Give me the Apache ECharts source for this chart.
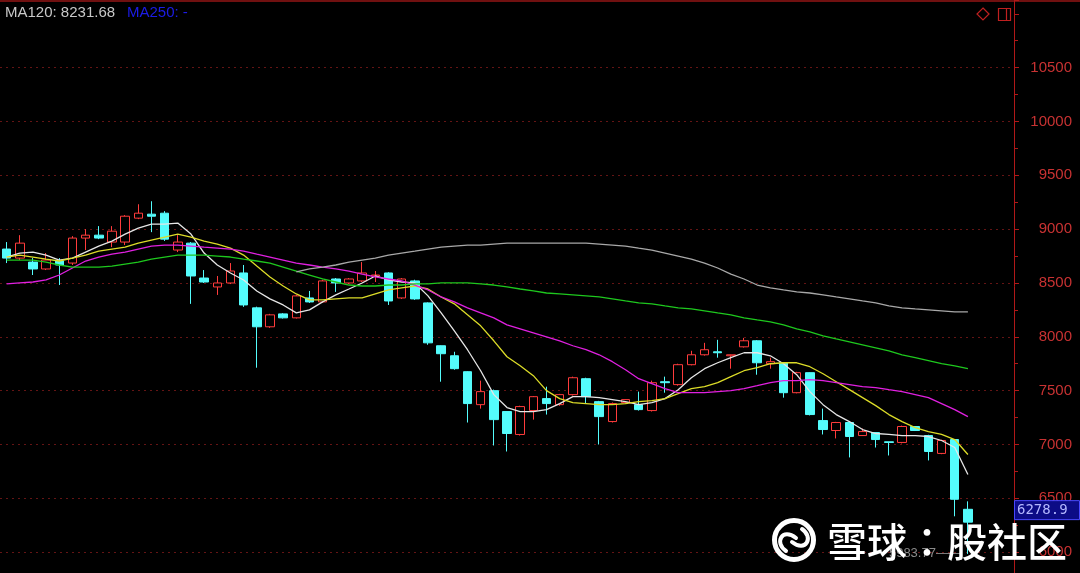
<!DOCTYPE html>
<html><head><meta charset="utf-8">
<script src="https://cdn.jsdelivr.net/npm/echarts@6/dist/echarts.min.js"></script>
<style>html,body{margin:0;padding:0;background:#000;}#c{width:1080px;height:573px;}</style>
</head><body><div id="c"></div>
<script>
// ---- data ----
const categories = Array.from({length: 77}, (_, i) => String(i + 1)); // 74 trading days + 3 empty slots
const opens = [8815,8731,8694,8630,8704,8685,8917,8944,8880,8880,
  9102,9139,9148,8806,8870,8546,8463,8500,8593,8269,
  8093,8213,8176,8361,8324,8537,8500,8519,8565,8593,
  8361,8519,8315,7917,7824,7676,7370,7500,7306,7093,
  7315,7426,7370,7463,7611,7398,7213,7389,7370,7315,
  7583,7556,7741,7833,7861,7824,7907,7963,7750,7759,
  7481,7667,7222,7130,7204,7083,7111,7025,7019,7167,
  7083,6917,7046,6398];
const closes = [8731,8870,8630,8713,8667,8917,8944,8917,8981,9120,
  9148,9120,8907,8880,8565,8509,8500,8611,8296,8093,
  8204,8176,8380,8324,8519,8500,8537,8593,8574,8333,
  8537,8352,7944,7843,7704,7380,7491,7231,7102,7352,
  7444,7380,7463,7620,7444,7259,7380,7417,7324,7574,
  7574,7741,7833,7880,7852,7833,7963,7759,7769,7481,
  7667,7278,7139,7204,7074,7120,7046,7019,7167,7130,
  6935,7037,6491,6278.9];
const lows = [8685,8713,8574,8620,8481,8667,8806,8907,8833,8852,
  9093,8972,8890,8787,8306,8500,8389,8490,8278,7713,
  8083,8170,8170,8315,8315,8417,8490,8509,8509,8296,
  8352,8343,7926,7583,7694,7204,7333,6991,6935,7083,
  7231,7278,7360,7455,7380,7000,7204,7380,7315,7306,
  7481,7546,7735,7825,7806,7704,7900,7648,7704,7435,
  7475,7270,7093,7056,6880,7080,6972,6898,7010,7125,
  6852,6910,6333,5983.77];
const highs = [8880,8944,8731,8778,8731,8935,9000,9028,9028,9130,
  9231,9259,9167,8944,8880,8620,8565,8685,8667,8280,
  8213,8220,8390,8426,8530,8546,8546,8694,8611,8600,
  8546,8530,8320,7920,7861,7680,7593,7510,7310,7360,
  7450,7537,7470,7630,7620,7405,7390,7420,7491,7593,
  7630,7750,7870,7944,7972,7835,7990,7970,7806,7765,
  7675,7670,7333,7210,7210,7148,7115,7025,7175,7170,
  7090,7045,7050,6472];
const ma5 = [8741,8778,8787,8759,8713,8731,8787,8843,8889,8954,
  9009,9046,9046,9056,8954,8778,8667,8593,8528,8426,
  8352,8296,8222,8250,8324,8389,8444,8500,8565,8528,
  8509,8500,8380,8222,8056,7880,7685,7463,7343,7306,
  7306,7324,7380,7444,7444,7435,7417,7398,7370,7389,
  7426,7509,7620,7704,7759,7806,7852,7852,7824,7750,
  7648,7491,7370,7278,7213,7139,7102,7093,7083,7083,
  7074,7037,6972,6722];
const ma10 = [8741,8759,8741,8722,8704,8731,8759,8796,8815,8833,
  8870,8898,8926,8954,8926,8889,8861,8824,8759,8657,
  8556,8472,8398,8343,8343,8352,8361,8361,8398,8435,
  8454,8472,8444,8370,8306,8204,8102,7963,7815,7732,
  7639,7500,7426,7389,7380,7370,7370,7380,7398,7407,
  7426,7472,7519,7537,7574,7630,7685,7713,7750,7759,
  7759,7722,7657,7583,7509,7435,7361,7278,7213,7157,
  7120,7093,7046,6907];
const ma20 = [8491,8500,8509,8528,8574,8639,8704,8741,8768,8787,
  8815,8843,8852,8852,8843,8833,8824,8815,8796,8768,
  8741,8713,8685,8667,8648,8630,8611,8583,8556,8537,
  8519,8481,8435,8370,8324,8269,8222,8176,8111,8074,
  8037,8000,7963,7917,7880,7833,7769,7694,7611,7565,
  7519,7481,7481,7481,7491,7500,7519,7546,7574,7593,
  7593,7602,7593,7574,7556,7537,7528,7509,7491,7463,
  7435,7380,7324,7259];
const ma60 = [8713,8713,8713,8694,8667,8648,8648,8648,8657,8676,
  8694,8722,8741,8759,8759,8759,8750,8741,8722,8704,
  8685,8648,8611,8574,8537,8509,8481,8472,8472,8481,
  8481,8491,8491,8500,8500,8500,8491,8481,8463,8444,
  8426,8407,8398,8389,8380,8370,8352,8333,8315,8306,
  8287,8269,8259,8241,8222,8204,8176,8157,8139,8111,
  8074,8046,8009,7981,7954,7926,7898,7870,7833,7806,
  7778,7750,7731,7704];
const ma120 = ['-','-','-','-','-','-','-','-','-','-',
  '-','-','-','-','-','-','-','-','-','-',
  '-','-',8602,8630,8648,8667,8694,8713,8731,8759,
  8778,8796,8815,8833,8843,8852,8852,8861,8870,8870,
  8870,8870,8870,8870,8870,8861,8852,8843,8824,8806,
  8778,8750,8722,8685,8639,8583,8537,8481,8454,8435,
  8417,8407,8389,8370,8352,8333,8315,8287,8269,8259,
  8250,8241,8231,8231.68];
const yTickLabels = [6000,6500,7000,7500,8000,8500,9000,9500,10000,10500];

// ---- chart ----
const candleData = opens.map((o, i) => [o, closes[i], lows[i], highs[i]]);
const lastIdx = opens.length - 1;
const chart = echarts.init(document.getElementById('c'), null, {renderer: 'canvas'});
const lineSeries = (name, data, color) => ({
  name, type: 'line', data, symbol: 'none', showSymbol: false,
  lineStyle: {color, width: 1.3}, z: 3, silent: true
});
const splitColors = [];
for (let i = 0; i < 11; i++) splitColors.push('#641414');
splitColors.push('rgba(0,0,0,0)');

const baseGraphic = [
  {type: 'line', shape: {x1: 0, y1: 1, x2: 1080, y2: 1}, style: {stroke: '#701010', lineWidth: 2}, silent: true},
  {type: 'text', x: 5, y: 13, style: {text: 'MA120: ' + ma120[lastIdx].toFixed(2), fill: '#c8c8c8',
    font: '15px "Liberation Sans", Arial', verticalAlign: 'middle'}},
  {type: 'text', x: 127, y: 13, style: {text: 'MA250: -', fill: '#1c1ce6',
    font: '15px "Liberation Sans", Arial', verticalAlign: 'middle'}},
  {type: 'polygon', shape: {points: [[983, 8], [989, 14], [983, 20], [977, 14]]},
    style: {fill: 'none', stroke: '#c02020', lineWidth: 1.2}},
  {type: 'rect', shape: {x: 998.5, y: 8.5, width: 12, height: 12}, style: {fill: 'none', stroke: '#c02020', lineWidth: 1.2}},
  {type: 'line', shape: {x1: 1006.5, y1: 8.5, x2: 1006.5, y2: 20.5}, style: {stroke: '#c02020', lineWidth: 1.2}},
  // watermark
  {type: 'circle', shape: {cx: 794, cy: 540, r: 19.5}, style: {fill: 'none', stroke: '#fff', lineWidth: 5}, z: 100},
  {type: 'bezierCurve', shape: {x1: 786, y1: 551, cpx1: 774, cpy1: 543, cpx2: 782, cpy2: 527, x2: 796, y2: 538},
    style: {fill: 'none', stroke: '#fff', lineWidth: 4, lineCap: 'round'}, z: 100},
  {type: 'bezierCurve', shape: {x1: 802, y1: 529, cpx1: 814, cpy1: 537, cpx2: 806, cpy2: 553, x2: 792, y2: 542},
    style: {fill: 'none', stroke: '#fff', lineWidth: 4, lineCap: 'round'}, z: 100},
  {type: 'text', x: 827, y: 542, z: 100, style: {text: '雪球：股社区', fill: '#fff',
    font: '500 40px "Noto Sans CJK TC"', verticalAlign: 'middle'}}
];

chart.setOption({
  backgroundColor: '#000',
  animation: false,
  grid: {left: 0, right: 66, top: 0, bottom: -33, outerBoundsMode: 'none', containLabel: false},
  xAxis: {type: 'category', data: categories, boundaryGap: true, show: false},
  yAxis: {
    type: 'value', position: 'right', min: 5500, max: 11128, interval: 500,
    axisLine: {show: true, lineStyle: {color: '#b01818', width: 1}},
    axisTick: {show: true, length: 5, lineStyle: {color: '#b01818'}},
    minorTick: {show: true, splitNumber: 2, length: 4, lineStyle: {color: '#b01818'}},
    axisLabel: {
      align: 'right', margin: 58, color: '#c83232', fontSize: 15,
      fontFamily: '"Liberation Sans", Arial, sans-serif',
      formatter: v => yTickLabels.includes(v) ? String(v) : ''
    },
    splitLine: {show: true, showMaxLine: false, lineStyle: {color: splitColors, type: [2, 4], width: 1}}
  },
  series: [
    {
      type: 'candlestick', data: candleData, barWidth: 9, z: 2, clip: false,
      itemStyle: {color: '#000', color0: '#54fcfc', borderColor: '#ff3c3c', borderColor0: '#54fcfc', borderWidth: 1},
      markPoint: {
        symbol: 'circle', symbolSize: 0, silent: true,
        data: [{coord: [lastIdx, lows[lastIdx]], value: lows[lastIdx]}],
        label: {show: true, position: 'left', distance: 6, formatter: p => p.value + '——',
          color: '#8a8a8a', fontSize: 13, fontFamily: '"Liberation Sans", Arial'}
      }
    },
    lineSeries('MA5', ma5, '#e6e6e6'),
    lineSeries('MA10', ma10, '#dcdc28'),
    lineSeries('MA20', ma20, '#e020e0'),
    lineSeries('MA60', ma60, '#1ec81e'),
    lineSeries('MA120', ma120, '#a8a8a8')
  ],
  graphic: baseGraphic
});

// latest-price tag on the axis, positioned through the y scale
const py = chart.convertToPixel({yAxisIndex: 0}, closes[lastIdx]);
chart.setOption({
  graphic: baseGraphic.concat([
    {type: 'rect', shape: {x: 1014.5, y: py - 21.5, width: 65, height: 19},
      style: {fill: '#0c0c86', stroke: '#4848ff', lineWidth: 1}, z: 50},
    {type: 'text', x: 1017, y: py - 12, z: 51, style: {text: String(closes[lastIdx]), fill: '#b4b8ff',
      font: '14px "DejaVu Sans Mono", monospace', verticalAlign: 'middle'}}
  ])
}, {replaceMerge: ['graphic']});
</script></body></html>
